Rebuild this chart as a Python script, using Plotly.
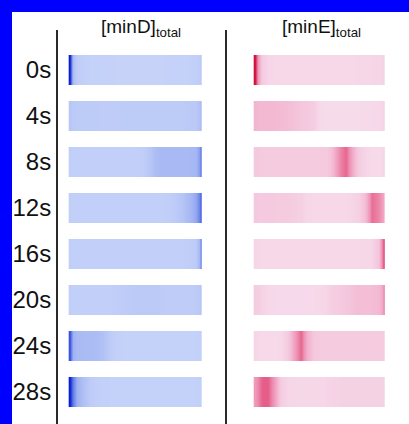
import plotly.graph_objects as go

W, H = 409, 424

times = ["0s", "4s", "8s", "12s", "16s", "20s", "24s", "28s"]
xgrid = [0, .02, .05, .1, .15, .2, .25, .3, .35, .4, .45, .5, .55, .6, .65, .7, .75, .8, .85, .9, .95, .98, 1]

minD = [
    [1.0, .45, .32, .30, .28, .28, .27, .27, .26, .26, .26, .26, .26, .26, .26, .26, .27, .27, .28, .28, .30, .32, .40],
    [.36, .34, .33, .33, .33, .33, .32, .32, .32, .33, .33, .33, .33, .33, .33, .33, .33, .33, .33, .34, .35, .40, .55],
    [.31, .30, .30, .30, .30, .30, .30, .30, .30, .30, .30, .30, .31, .36, .44, .47, .47, .47, .47, .47, .48, .60, .95],
    [.31, .30, .30, .30, .30, .30, .30, .30, .30, .30, .30, .30, .30, .30, .30, .30, .31, .33, .38, .46, .55, .70, 1.0],
    [.31, .30, .30, .30, .30, .30, .30, .30, .30, .30, .30, .30, .30, .30, .30, .30, .30, .30, .30, .31, .33, .50, 1.0],
    [.31, .30, .30, .30, .30, .30, .30, .30, .31, .32, .33, .34, .34, .34, .34, .33, .32, .32, .32, .32, .33, .35, .40],
    [.85, .52, .46, .45, .45, .44, .40, .33, .29, .28, .28, .28, .28, .28, .28, .28, .28, .28, .28, .28, .28, .29, .30],
    [1.0, .72, .52, .40, .33, .30, .29, .28, .28, .28, .28, .28, .28, .28, .28, .28, .28, .28, .28, .28, .28, .29, .30],
]

minE = [
    [1.0, .55, .30, .22, .20, .20, .20, .20, .20, .20, .20, .20, .20, .20, .20, .20, .20, .21, .21, .22, .22, .23, .26],
    [.42, .41, .40, .40, .40, .39, .38, .36, .33, .31, .28, .18, .16, .16, .16, .16, .16, .17, .18, .19, .20, .22, .28],
    [.32, .31, .30, .30, .30, .30, .30, .30, .30, .30, .30, .30, .31, .40, .62, .72, .45, .28, .22, .18, .17, .20, .32],
    [.32, .31, .31, .31, .30, .30, .30, .28, .26, .21, .20, .20, .20, .20, .20, .20, .22, .26, .40, .70, .62, .50, .42],
    [.22, .21, .20, .20, .20, .20, .20, .20, .20, .20, .20, .20, .20, .20, .20, .20, .20, .20, .21, .22, .35, .70, 1.0],
    [.30, .28, .24, .20, .19, .19, .19, .19, .19, .19, .19, .20, .22, .28, .30, .32, .36, .38, .38, .38, .40, .50, .90],
    [.22, .20, .18, .18, .18, .20, .30, .50, .72, .45, .32, .30, .30, .30, .30, .30, .30, .30, .30, .30, .30, .30, .31],
    [.55, .62, .74, .75, .52, .28, .22, .21, .21, .21, .21, .21, .22, .24, .25, .25, .25, .25, .25, .25, .25, .25, .26],
]

col_titles = ["[minD]<sub>total</sub>", "[minE]<sub>total</sub>"]

scaleD = [[0, "#dfe6fb"], [0.3, "#c2cff8"], [0.5, "#a3b5f3"], [0.75, "#5a74e6"], [1, "#0a1fd0"]]
scaleE = [[0, "#f8eaf3"], [0.2, "#f6d8e9"], [0.35, "#f4c4db"], [0.6, "#ee8fb2"], [0.8, "#e24c7a"], [1, "#d0103c"]]

def px_x(a, b):
    return [a / W, b / W]

def px_y(top, bottom):
    return [1 - bottom / H, 1 - top / H]

row0, pitch = 70, 46
ytop, ybot = 30, H
half = 15 / pitch
yrange = [(ybot - row0) / pitch, (ytop - row0) / pitch]

fig = go.Figure()
cols = [(minD, "coloraxis", "x", "y"), (minE, "coloraxis2", "x2", "y2")]
for data, cax, xa, ya in cols:
    for i, prof in enumerate(data):
        # two rows whose brick extent spans exactly i-half .. i+half
        fig.add_trace(go.Heatmap(
            x=xgrid, y=[i - half / 2, i + half / 2], z=[prof, prof],
            coloraxis=cax, zsmooth="best", xaxis=xa, yaxis=ya,
            hoverinfo="skip"))

axline = dict(showline=True, linecolor="#2a2a2a", linewidth=2)
fig.update_layout(
    width=W, height=H,
    margin=dict(l=0, r=0, t=0, b=0),
    paper_bgcolor="#0000ff",
    plot_bgcolor="rgba(0,0,0,0)",
    font=dict(family="Liberation Sans, Arial, sans-serif", color="#111"),
    showlegend=False,
    coloraxis=dict(colorscale=scaleD, cmin=0, cmax=1, showscale=False),
    coloraxis2=dict(colorscale=scaleE, cmin=0, cmax=1, showscale=False),
    xaxis=dict(domain=px_x(58, 202), range=[-12 / 132, 1], visible=False),
    yaxis=dict(domain=px_y(ytop, ybot), range=yrange, tickmode="array",
               tickvals=list(range(len(times))), ticktext=times,
               tickfont=dict(size=24, color="#111"), ticks="", showgrid=False,
               zeroline=False, **axline),
    xaxis2=dict(domain=px_x(227, 385), range=[-28 / 130, 1], visible=False),
    yaxis2=dict(domain=px_y(ytop, ybot), range=yrange, anchor="x2",
                showticklabels=False, ticks="", showgrid=False,
                zeroline=False, **axline),
    shapes=[dict(type="rect", xref="paper", yref="paper", x0=12 / W, x1=1,
                 y0=0, y1=1 - 12 / H, fillcolor="white", line=dict(width=0),
                 layer="below")],
    annotations=[
        dict(text=col_titles[0], x=141 / W, y=1 - 28 / H, xref="paper", yref="paper",
             showarrow=False, font=dict(size=19, color="#111"), xanchor="center", yanchor="middle"),
        dict(text=col_titles[1], x=321 / W, y=1 - 28 / H, xref="paper", yref="paper",
             showarrow=False, font=dict(size=19, color="#111"), xanchor="center", yanchor="middle"),
    ],
)

fig.write_html("out.html")
